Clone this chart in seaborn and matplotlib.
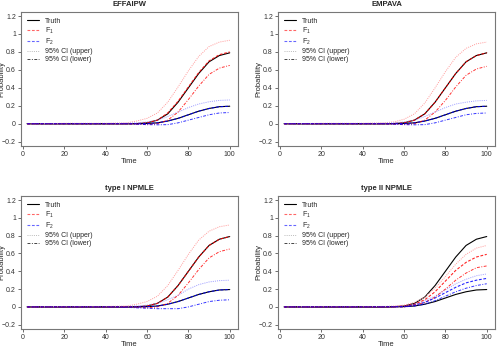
import numpy as np
import pandas as pd
import matplotlib
matplotlib.use("Agg")
import matplotlib.pyplot as plt
from matplotlib.lines import Line2D
from matplotlib.ticker import FuncFormatter
import seaborn as sns

sns.set_style("white")
plt.rcParams['font.family'] = ['Liberation Sans', 'DejaVu Sans']
plt.rcParams['mathtext.fontset'] = 'custom'
plt.rcParams['mathtext.rm'] = 'Liberation Sans'
plt.rcParams['mathtext.it'] = 'Liberation Sans'

# time grid
time = [2, 20, 40, 50, 55, 60, 65, 70, 75, 80, 85, 90, 95, 100]

truth_f1 = [0, 0, 0, 0, 0.002, 0.01, 0.04, 0.11, 0.24, 0.40, 0.56, 0.69, 0.76, 0.79]
truth_f2 = [0, 0, 0, 0, 0.001, 0.003, 0.01, 0.03, 0.06, 0.10, 0.14, 0.17, 0.19, 0.195]

panel_titles = ["EFFAIPW", "EMPAVA", "type I NPMLE", "type II NPMLE"]

# F1 estimate / upper / lower per panel
f1_est = [
    [0, 0, 0, 0, 0.002, 0.01, 0.04, 0.12, 0.25, 0.41, 0.57, 0.70, 0.77, 0.80],
    [0, 0, 0, 0, 0.002, 0.01, 0.04, 0.11, 0.24, 0.40, 0.56, 0.69, 0.76, 0.79],
    [0, 0, 0, 0, 0.002, 0.01, 0.04, 0.11, 0.24, 0.40, 0.56, 0.69, 0.76, 0.79],
    [0, 0, 0, 0, 0.002, 0.01, 0.03, 0.08, 0.17, 0.29, 0.41, 0.50, 0.56, 0.59],
]
f1_upper = [
    [0, 0.005, 0.005, 0.01, 0.03, 0.06, 0.12, 0.24, 0.41, 0.59, 0.75, 0.86, 0.91, 0.93],
    [0, 0.005, 0.005, 0.01, 0.02, 0.05, 0.11, 0.23, 0.40, 0.58, 0.74, 0.84, 0.89, 0.91],
    [0, 0.005, 0.005, 0.01, 0.03, 0.06, 0.12, 0.24, 0.41, 0.59, 0.75, 0.85, 0.90, 0.92],
    [0, 0.005, 0.005, 0.005, 0.01, 0.02, 0.05, 0.11, 0.21, 0.34, 0.48, 0.59, 0.66, 0.69],
]
f1_lower = [
    [0, 0, 0, 0, -0.005, -0.01, 0.0, 0.04, 0.13, 0.27, 0.42, 0.55, 0.62, 0.65],
    [0, 0, 0, 0, -0.005, -0.01, 0.0, 0.04, 0.13, 0.26, 0.41, 0.54, 0.61, 0.64],
    [0, 0, 0, 0, -0.005, -0.01, 0.0, 0.04, 0.13, 0.27, 0.42, 0.55, 0.62, 0.65],
    [0, 0, 0, 0, 0.0, 0.0, 0.02, 0.05, 0.11, 0.20, 0.30, 0.38, 0.44, 0.46],
]

# F2 estimate / upper / lower per panel
f2_est = [
    [0, 0, 0, 0, 0.001, 0.003, 0.01, 0.03, 0.06, 0.10, 0.14, 0.17, 0.19, 0.195],
    [0, 0, 0, 0, 0.001, 0.003, 0.01, 0.03, 0.06, 0.10, 0.14, 0.17, 0.19, 0.195],
    [0, 0, 0, 0, 0.001, 0.003, 0.01, 0.03, 0.06, 0.10, 0.14, 0.17, 0.19, 0.195],
    [0, 0, 0, 0, 0.002, 0.005, 0.02, 0.05, 0.10, 0.16, 0.22, 0.27, 0.30, 0.32],
]
f2_upper = [
    [0, 0.003, 0.003, 0.005, 0.01, 0.02, 0.04, 0.08, 0.13, 0.18, 0.22, 0.245, 0.26, 0.265],
    [0, 0.003, 0.003, 0.005, 0.01, 0.02, 0.04, 0.08, 0.13, 0.18, 0.22, 0.24, 0.255, 0.26],
    [0, 0.003, 0.003, 0.005, 0.01, 0.02, 0.04, 0.08, 0.13, 0.20, 0.25, 0.28, 0.295, 0.30],
    [0, 0.003, 0.003, 0.005, 0.005, 0.01, 0.03, 0.07, 0.12, 0.19, 0.26, 0.31, 0.35, 0.37],
]
f2_lower = [
    [0, 0, 0, 0, -0.005, -0.01, -0.012, -0.01, 0.01, 0.04, 0.07, 0.10, 0.12, 0.125],
    [0, 0, 0, 0, -0.005, -0.01, -0.012, -0.01, 0.01, 0.04, 0.07, 0.10, 0.115, 0.12],
    [0, 0, 0, -0.005, -0.01, -0.015, -0.02, -0.02, -0.02, 0.0, 0.03, 0.06, 0.075, 0.08],
    [0, 0, 0, 0, 0.0, 0.0, 0.01, 0.03, 0.07, 0.12, 0.17, 0.21, 0.24, 0.26],
]

W, H = 498, 349
fig = plt.figure(figsize=(W / 100, H / 100), dpi=100)

# axes boxes in pixels: left, top, right, bottom
boxes = [(21, 12, 238, 146), (278, 12, 495, 146),
         (21, 196, 238, 329), (278, 196, 495, 329)]

red = "#ff0000"
blue = "#0000ff"
fs = 5

for i, (l, t, r, b) in enumerate(boxes):
    ax = fig.add_axes([l / W, 1 - b / H, (r - l) / W, (b - t) / H])
    # truth
    sns.lineplot(x=time, y=truth_f1, ax=ax, color="black", lw=0.8)
    sns.lineplot(x=time, y=truth_f2, ax=ax, color="black", lw=0.8)
    # upper CI
    sns.lineplot(x=time, y=f1_upper[i], ax=ax, color="#ff9a9a", lw=0.7, linestyle=(0, (1, 1.2)))
    sns.lineplot(x=time, y=f2_upper[i], ax=ax, color="#9a9aff", lw=0.7, linestyle=(0, (1, 1.2)))
    # lower CI
    sns.lineplot(x=time, y=f1_lower[i], ax=ax, color=red, lw=0.7, linestyle=(0, (3, 1.5, 1, 1.5)), alpha=0.8)
    sns.lineplot(x=time, y=f2_lower[i], ax=ax, color=blue, lw=0.7, linestyle=(0, (3, 1.5, 1, 1.5)), alpha=0.8)
    # estimates
    sns.lineplot(x=time, y=f1_est[i], ax=ax, color=red, lw=0.8, linestyle=(0, (2.5, 1.5)), alpha=0.85)
    sns.lineplot(x=time, y=f2_est[i], ax=ax, color=blue, lw=0.8, linestyle=(0, (2.5, 1.5)), alpha=0.85)

    ax.set_xlim(-1, 104)
    ax.set_ylim(-0.248, 1.245)
    ax.set_xticks([0, 20, 40, 60, 80, 100])
    ax.set_yticks([-0.2, 0, 0.2, 0.4, 0.6, 0.8, 1.0, 1.2])
    ax.yaxis.set_major_formatter(FuncFormatter(lambda v, p: f"{v:g}".replace("-", "\u2212")))
    ax.tick_params(axis="both", labelsize=fs, length=2.5, width=0.5, pad=1.2,
                   left=True, bottom=True, colors="#333333")
    for s in ax.spines.values():
        s.set_color("#777777")
        s.set_linewidth(0.8)
    ax.set_title(panel_titles[i], fontsize=5.5, fontweight="bold", pad=4)
    ax.set_xlabel("Time", fontsize=5.5, labelpad=0.2)
    ax.set_ylabel("Probability", fontsize=5.5)
    ax.yaxis.set_label_coords(-0.07, 0.5)

    handles = [
        Line2D([], [], color="black", lw=0.8),
        Line2D([], [], color=red, lw=0.8, linestyle=(0, (2.5, 1.5)), alpha=0.6),
        Line2D([], [], color=blue, lw=0.8, linestyle=(0, (2.5, 1.5)), alpha=0.6),
        Line2D([], [], color="#bbbbbb", lw=0.7, linestyle=(0, (1, 1.2))),
        Line2D([], [], color="#444444", lw=0.7, linestyle=(0, (3, 1.5, 1, 1.5))),
    ]
    labels = ["Truth", "$\\mathregular{F_1}$", "$\\mathregular{F_2}$",
              "95% CI (upper)", "95% CI (lower)"]
    ax.legend(handles, labels, loc="upper left", fontsize=fs, frameon=False,
              handlelength=1.8, labelspacing=0.15, handletextpad=0.8,
              borderaxespad=0.3, borderpad=0.5, bbox_to_anchor=(0.0, 1.0))

fig.savefig("out.png", dpi=100)
